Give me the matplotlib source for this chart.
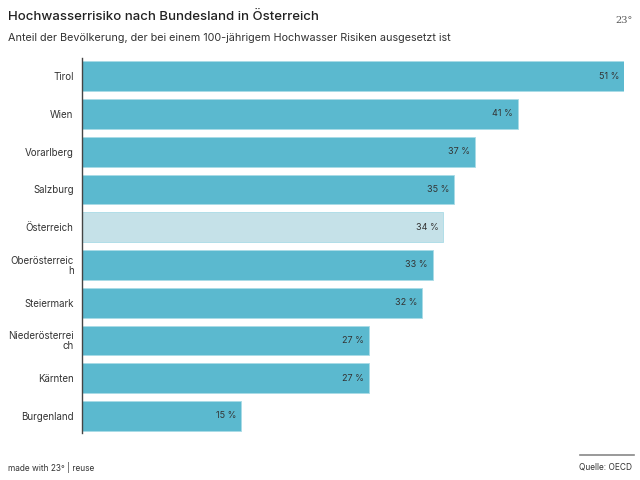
import matplotlib.pyplot as plt

plt.rcParams['font.family'] = ['Inter', 'DejaVu Sans']

# daten
laender = ["Tirol", "Wien", "Vorarlberg", "Salzburg", "Österreich",
           "Oberösterreic\nh", "Steiermark", "Niederösterrei\nch", "Kärnten", "Burgenland"]
werte = [51, 41, 37, 35, 34, 33, 32, 27, 27, 15]
farben = ["#5bb9cf"] * 4 + ["#c5e1e8"] + ["#5bb9cf"] * 5

fig = plt.figure(figsize=(6.4, 4.8), dpi=100)
ax = fig.add_axes([0.128, 0.098, 0.847, 0.781])

y = list(range(len(laender)))
ax.barh(y, werte, height=0.79, color=farben, edgecolor="#a9dbe6", linewidth=0.6)

for yi, w in zip(y, werte):
    ax.text(w - 0.45, yi, f"{w} %", ha="right", va="center", fontsize=6.5, color="#333333")

ax.set_xlim(0, 51)
ax.set_ylim(9.45, -0.48)
ax.set_yticks(y)
ax.set_yticklabels(laender, fontsize=7, color="#333333", linespacing=0.95,
                   multialignment="right")
ax.tick_params(axis="y", length=0, pad=6)
ax.set_xticks([])
for s in ["top", "right", "bottom"]:
    ax.spines[s].set_visible(False)
ax.spines["left"].set_color("#444444")
ax.spines["left"].set_linewidth(1.0)

# titel
fig.text(0.0125, 0.965, "Hochwasserrisiko nach Bundesland in Österreich",
         fontsize=9.5, fontweight="medium", color="#222222", va="center")
fig.text(0.0125, 0.921, "Anteil der Bevölkerung, der bei einem 100-jährigem Hochwasser Risiken ausgesetzt ist",
         fontsize=7.8, color="#333333", va="center")
fig.text(0.975, 0.958, "23°", fontsize=7, color="#555555", ha="center", va="center",
         fontfamily="DejaVu Serif")

# fusszeile
fig.text(0.0125, 0.027, "made with 23° | reuse", fontsize=6, color="#333333", va="center")
fig.text(0.988, 0.027, "Quelle: OECD", fontsize=6, color="#333333", ha="right", va="center")
fig.add_artist(plt.Line2D([0.906, 0.991], [0.052, 0.052], color="#888888", linewidth=1.2,
                          transform=fig.transFigure))

fig.savefig("out.png", dpi=100)
